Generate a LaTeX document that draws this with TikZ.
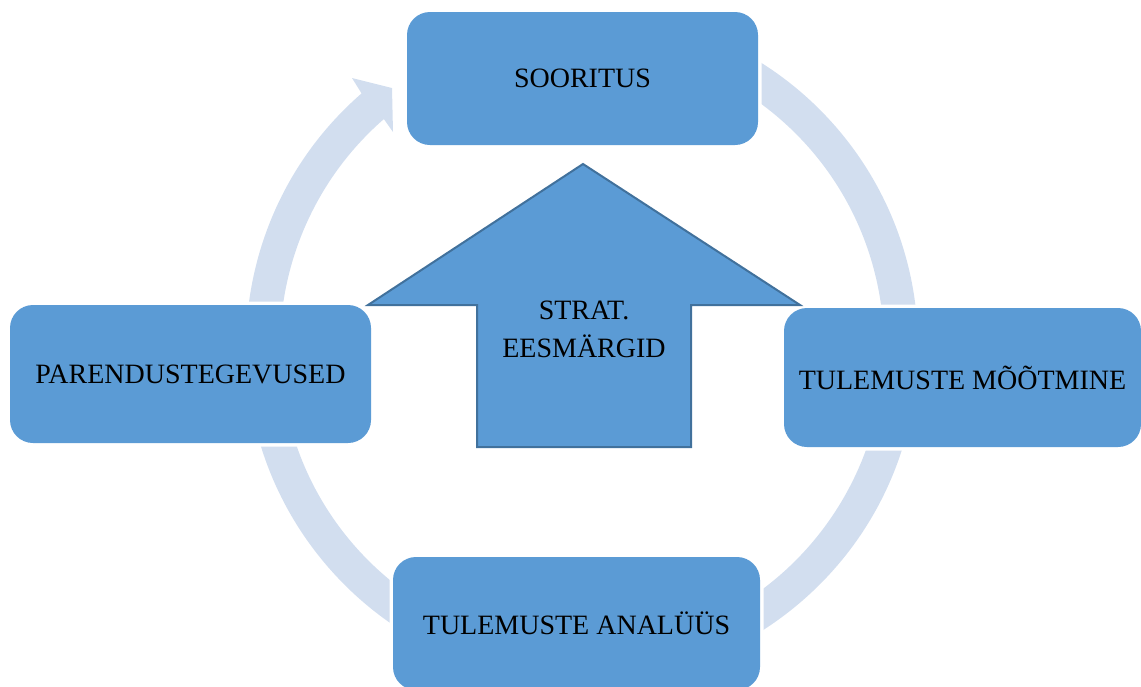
\documentclass[tikz,border=0pt]{standalone}
\usepackage{fontspec}
\setmainfont{Liberation Serif}
\definecolor{boxblue}{HTML}{5B9BD5}
\definecolor{boxedge}{HTML}{41719C}
\definecolor{ringcol}{HTML}{D2DEEF}
\tikzset{
  stagebox/.style={rounded corners=23pt, fill=boxblue, inner sep=0pt,
    preaction={draw=white, line width=7pt},
    font=\fontsize{28}{34}\selectfont, text=black},
}
\begin{document}
\begin{tikzpicture}[x=1pt,y=1pt]
\useasboundingbox (0,0) rectangle (1141,-686);
\clip (0,0) rectangle (1141,-686);
% ring with arrowhead
\begin{scope}[shift={(582,-347)}]
\fill[ringcol] (131:302) -- (-189,215) -- (-190,259) -- (-230,269) -- (131:336)
  arc[start angle=131,end angle=461,radius=336] -- (461:302)
  arc[start angle=461,end angle=131,radius=302] -- cycle;
\end{scope}
% stage boxes
\node[stagebox, minimum width=351pt, minimum height=133pt] (soor) at (582.5,-78.5) {SOORITUS};
\node[stagebox, minimum width=357pt, minimum height=139pt] (moot) at (962.5,-377.5) {TULEMUSTE MÕÕTMINE};
\node[stagebox, minimum width=367pt, minimum height=133pt] (anal) at (576.5,-623.5) {TULEMUSTE ANALÜÜS};
\node[stagebox, minimum width=361pt, minimum height=138pt] (pare) at (190.5,-374) {PARENDUSTEGEVUSED};
% central arrow
\draw[fill=boxblue, draw=boxedge, line width=2pt, line join=miter]
  (583,-164) -- (800,-305) -- (691,-305) -- (691,-447) -- (477,-447) -- (477,-305) -- (368,-305) -- cycle;
\node[align=center, font=\fontsize{28}{38}\selectfont, text=black] (goal) at (584,-329) {STRAT.\\EESMÄRGID};
\end{tikzpicture}
\end{document}
